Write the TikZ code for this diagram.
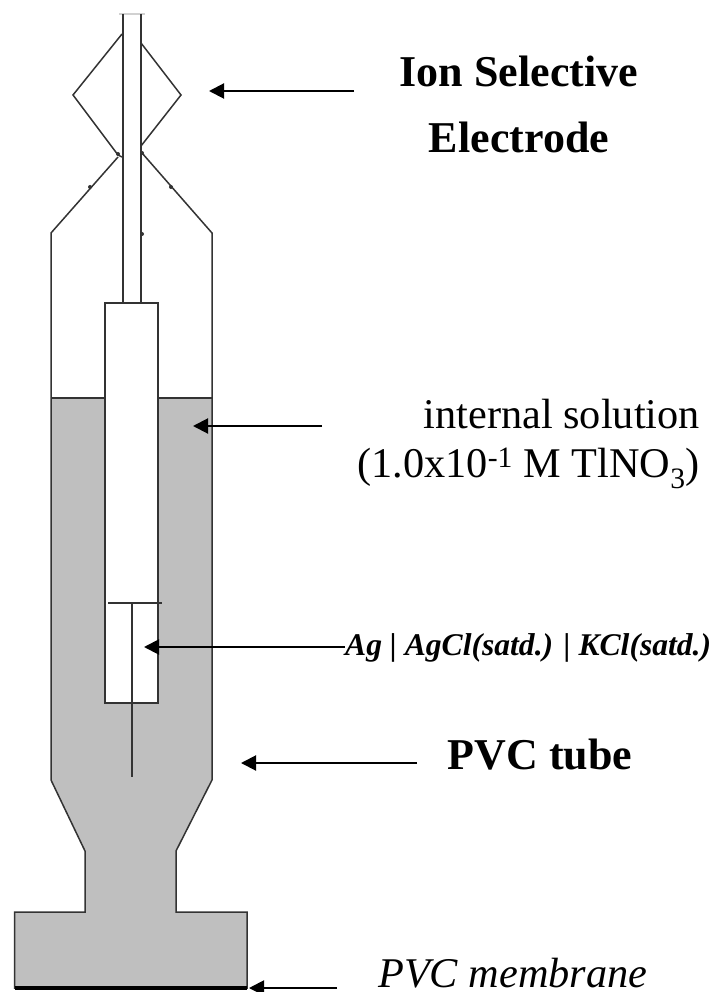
\documentclass[tikz,border=0pt]{standalone}
\usepackage{fontspec}
\setmainfont{Liberation Serif}
\usepackage{tikz}
\usetikzlibrary{arrows.meta}

\begin{document}
\begin{tikzpicture}[x=1pt,y=-1pt]
	\tikzset{
		wall/.style={draw=black!80,line width=1.5pt},
		rod/.style={draw=black!80,line width=2pt},
		pointer/.style={line width=2pt,-{Triangle[length=15pt,width=15pt]}},
		title/.style={inner sep=0pt,anchor=base,font=\fontsize{44}{44}\selectfont\bfseries},
		plain/.style={inner sep=0pt,anchor=base east,font=\fontsize{42.3}{42.3}\selectfont}
	}
	\useasboundingbox (0,0) rectangle (717,992);
	% filled part
	\fill[black!25] (51,398) -- (51,780) -- (85,851) -- (85,912) -- (14.5,912) -- (14.5,988)
		-- (247,988) -- (247,912) -- (176,912) -- (176,851) -- (212,780) -- (212,398) -- cycle;
	\fill[white] (104.5,303) rectangle (157.5,703);
	% body
	\draw[wall] (122,34) -- (73,95) -- (118,155) -- (122,157);
	\draw[wall] (118,157) -- (51,233) -- (51,780) -- (85,851) -- (85,912)
		-- (14.5,912) -- (14.5,988) -- (247,988) -- (247,912) -- (176,912) -- (176,851)
		-- (212,780) -- (212,233) -- (142,153);
	\draw[wall] (141,43) -- (181,95) -- (141,146);
	\draw[wall] (51,398) -- (104.5,398);
	\draw[wall] (157.5,398) -- (212,398);
	\draw[black,line width=3.5pt] (14.5,988) -- (247,988);
	\foreach \px/\py in {118/154,90/187,171/187,142/153,142/234}
		\fill[black!80] (\px,\py) circle (2pt);
	% rod and inner tube
	\draw[black!18,line width=2.5pt] (119,14) -- (145,14);
	\draw[rod] (122.5,14) -- (122.5,303);
	\draw[rod] (141,14) -- (141,303);
	\draw[rod] (104.5,303) rectangle (157.5,703);
	\draw[rod] (108,603) -- (161.5,603);
	\draw[rod] (131.5,603) -- (131.5,777);
	% labels
	\node[title] (ion) at (519,87) {Ion Selective};
	\node[title] (electrode) at (519,153) {Electrode};
	\node[plain] (internal) at (700,428) {internal solution};
	\node[plain] (conc) at (700,477) {(1.0x10\textsuperscript{-1} M TlNO\textsubscript{3})};
	\node[inner sep=0pt,anchor=base west,font=\fontsize{31.6}{31.6}\selectfont\bfseries\itshape] (ag) at (345,655) {Ag | AgCl(satd.) | KCl(satd.)};
	\node[title] (tube) at (540,769) {PVC tube};
	\node[inner sep=0pt,anchor=base west,font=\fontsize{42.3}{42.3}\selectfont\itshape] (membrane) at (378,987) {PVC membrane};
	% arrows
	\coordinate (iontail) at (354,91);
	\coordinate (iontip) at (209,91);
	\coordinate (inttail) at (322,426);
	\coordinate (inttip) at (193,426);
	\coordinate (agtail) at (ag.base west |- 0,647);
	\coordinate (agtip) at (144,647);
	\coordinate (tubetail) at (417,763);
	\coordinate (tubetip) at (241,763);
	\coordinate (memtail) at (337,988);
	\coordinate (memtip) at (249,988);
	\path[pointer]
		(iontail) edge (iontip)
		(inttail) edge (inttip)
		(agtail) edge (agtip)
		(tubetail) edge (tubetip)
		(memtail) edge (memtip);
\end{tikzpicture}
\end{document}
